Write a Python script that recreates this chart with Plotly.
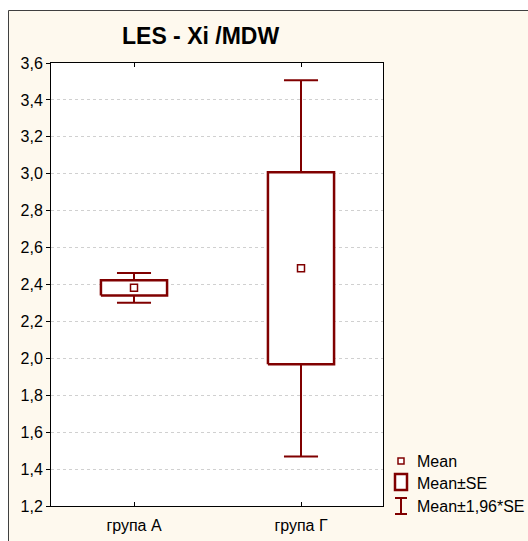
import plotly.graph_objects as go

# Group statistics
groups = ["група А", "група Г"]
means = [2.382, 2.488]
std_errs = [0.041, 0.52]
z_mult = 1.96

y_ticks = [1.2, 1.4, 1.6, 1.8, 2.0, 2.2, 2.4, 2.6, 2.8, 3.0, 3.2, 3.4, 3.6]

MAROON = "#800000"
CREAM = "#FEF9EE"
FONT = "Arial, Liberation Sans"

W, H = 528, 541
L, R, T, B = 51, 145, 63, 35

box_half = 0.198
cap_half = 0.102

fig = go.Figure()

for i, (m, s) in enumerate(zip(means, std_errs)):
    lo_box, hi_box = m - s, m + s
    lo_w, hi_w = m - z_mult * s, m + z_mult * s
    # whiskers with caps
    fig.add_trace(go.Scatter(
        x=[i, i, None, i - cap_half, i + cap_half, None,
           i, i, None, i - cap_half, i + cap_half],
        y=[hi_box, hi_w, None, hi_w, hi_w, None,
           lo_box, lo_w, None, lo_w, lo_w],
        mode="lines", line=dict(color=MAROON, width=2),
        hoverinfo="skip", showlegend=False))
    # Mean ± SE box
    fig.add_trace(go.Scatter(
        x=[i - box_half, i + box_half, i + box_half, i - box_half, i - box_half],
        y=[lo_box, lo_box, hi_box, hi_box, lo_box],
        mode="lines", fill="toself", fillcolor="white",
        line=dict(color=MAROON, width=2.5),
        hoverinfo="skip", showlegend=False))

# Mean markers
fig.add_trace(go.Scatter(
    x=list(range(len(groups))), y=means, mode="markers",
    marker=dict(symbol="square", size=7, color="white",
                line=dict(color=MAROON, width=1.5)),
    hoverinfo="skip", showlegend=False))

plot_w = W - L - R
plot_h = H - T - B


def px(x):
    return (x - L) / plot_w


def py(y):
    return (H - B - y) / plot_h


shapes = [
    # white strips outside the chart frame
    dict(type="rect", xref="paper", yref="paper", x0=px(-5), x1=px(8),
         y0=py(H + 5), y1=py(-5), fillcolor="white", line=dict(width=0), layer="below"),
    dict(type="rect", xref="paper", yref="paper", x0=px(-5), x1=px(W + 5),
         y0=py(10), y1=py(-5), fillcolor="white", line=dict(width=0), layer="below"),
    # frame border
    dict(type="line", xref="paper", yref="paper", x0=px(8.5), x1=px(8.5),
         y0=py(10.5), y1=py(H + 5), line=dict(color="#404040", width=1)),
    dict(type="line", xref="paper", yref="paper", x0=px(8.5), x1=px(W + 5),
         y0=py(10.5), y1=py(10.5), line=dict(color="#404040", width=1)),
    # legend symbols
    dict(type="rect", xref="paper", yref="paper", x0=px(398), x1=px(404),
         y0=py(464), y1=py(458), fillcolor="white",
         line=dict(color=MAROON, width=1.5)),
    dict(type="rect", xref="paper", yref="paper", x0=px(395), x1=px(407),
         y0=py(490), y1=py(474), fillcolor="white",
         line=dict(color=MAROON, width=2.5)),
    dict(type="line", xref="paper", yref="paper", x0=px(401), x1=px(401),
         y0=py(514), y1=py(498), line=dict(color=MAROON, width=2)),
    dict(type="line", xref="paper", yref="paper", x0=px(395), x1=px(407),
         y0=py(498), y1=py(498), line=dict(color=MAROON, width=2)),
    dict(type="line", xref="paper", yref="paper", x0=px(395), x1=px(407),
         y0=py(514), y1=py(514), line=dict(color=MAROON, width=2)),
]

legend_items = [("Mean", 461), ("Mean±SE", 483), ("Mean±1,96*SE", 506)]
annotations = [
    dict(text=t, xref="paper", yref="paper", x=px(415), y=py(yc),
         xanchor="left", yanchor="middle", showarrow=False,
         font=dict(family=FONT, size=16, color="black"))
    for t, yc in legend_items
]
annotations.append(dict(
    text="<b>LES - Xi /MDW</b>", xref="paper", yref="paper",
    x=px(200), y=py(36), xanchor="center", yanchor="middle", showarrow=False,
    font=dict(family=FONT, size=23, color="black")))

fig.update_layout(
    width=W, height=H,
    margin=dict(l=L, r=R, t=T, b=B, autoexpand=False),
    paper_bgcolor=CREAM, plot_bgcolor="white",
    separators=",.",
    font=dict(family=FONT, size=16, color="black"),
    shapes=shapes, annotations=annotations,
    showlegend=False,
)

fig.update_xaxes(
    range=[-0.497, 1.491], tickmode="array",
    tickvals=list(range(len(groups))), ticktext=groups,
    ticks="inside", ticklen=4, tickcolor="black",
    showline=True, linecolor="black", linewidth=1, mirror="ticks",
    showgrid=False, zeroline=False, ticklabelstandoff=5,
    tickfont=dict(size=16),
)
fig.update_yaxes(
    range=[1.2, 3.6], tickmode="array", tickvals=y_ticks,
    tickformat=".1f",
    ticks="outside", ticklen=4, tickcolor="black",
    showline=True, linecolor="black", linewidth=1, mirror=True,
    showgrid=True, gridcolor="#D0D0D0", griddash="dot", gridwidth=1,
    zeroline=False, tickfont=dict(size=16),
)

fig.write_html("out.html")
